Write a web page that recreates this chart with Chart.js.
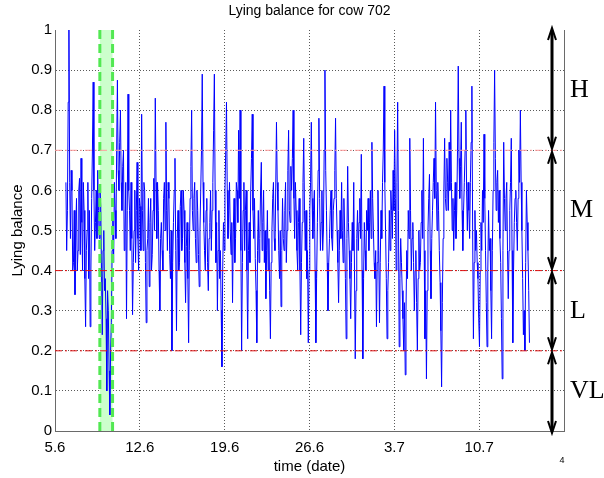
<!DOCTYPE html>
<html>
<head>
<meta charset="utf-8">
<script src="https://cdn.jsdelivr.net/npm/chart.js@4/dist/chart.umd.min.js"></script>
<style>
  html, body { margin: 0; padding: 0; background: #fff; }
  #wrap { width: 604px; height: 478px; }
</style>
</head>
<body>
<div id="wrap"><canvas id="c" width="604" height="478"></canvas></div>
<script>
// Lying balance, sampled every 1.5 hours (0.0625 day) from day 0.9 after 5 June
const startDay = 0.9;
const stepDay = 0.0625;
const lyingBalance = [
  0.62,0.45,0.55,0.82,1.00,0.62,0.48,0.65,0.60,0.40,0.42,0.55,0.34,0.50,0.58,0.40,0.45,0.60,0.63,0.44,
  0.68,0.52,0.40,0.62,0.55,0.38,0.26,0.45,0.50,0.62,0.38,0.55,0.26,0.40,0.58,0.70,0.87,0.60,0.45,0.52,
  0.60,0.48,0.65,0.55,0.48,0.60,0.56,0.40,0.24,0.45,0.50,0.35,0.38,0.28,0.10,0.35,0.30,0.15,0.04,0.20,
  0.27,0.45,0.54,0.42,0.62,0.55,0.48,0.70,0.875,0.65,0.60,0.72,0.80,0.62,0.55,0.66,0.70,0.45,0.50,0.62,
  0.28,0.55,0.84,0.60,0.55,0.45,0.62,0.48,0.29,0.42,0.50,0.60,0.42,0.55,0.67,0.48,0.40,0.58,0.56,0.45,
  0.79,0.55,0.45,0.62,0.60,0.42,0.27,0.45,0.48,0.58,0.36,0.52,0.58,0.40,0.44,0.55,0.63,0.50,0.83,0.62,
  0.48,0.62,0.55,0.40,0.30,0.48,0.52,0.45,0.40,0.58,0.62,0.50,0.77,0.55,0.45,0.62,0.58,0.44,0.38,0.50,
  0.20,0.42,0.52,0.60,0.68,0.45,0.25,0.48,0.55,0.40,0.42,0.56,0.60,0.45,0.48,0.60,0.55,0.42,0.32,0.46,
  0.52,0.38,0.22,0.45,0.58,0.66,0.80,0.55,0.50,0.58,0.62,0.48,0.42,0.60,0.55,0.44,0.36,0.50,0.60,0.70,
  0.89,0.62,0.52,0.45,0.40,0.55,0.58,0.42,0.35,0.48,0.52,0.60,0.45,0.55,0.62,0.75,0.89,0.60,0.42,0.52,
  0.30,0.45,0.55,0.38,0.45,0.30,0.16,0.40,0.52,0.45,0.60,0.70,0.82,0.60,0.48,0.55,0.62,0.50,0.44,0.52,
  0.32,0.50,0.58,0.42,0.48,0.62,0.60,0.52,0.75,0.58,0.80,0.45,0.20,0.42,0.55,0.62,0.45,0.55,0.60,0.40,
  0.23,0.45,0.52,0.42,0.60,0.68,0.79,0.55,0.48,0.58,0.43,0.35,0.22,0.45,0.55,0.42,0.48,0.60,0.67,0.45,
  0.52,0.60,0.42,0.50,0.33,0.45,0.55,0.40,0.48,0.35,0.23,0.42,0.50,0.58,0.62,0.48,0.45,0.60,0.77,0.62,
  0.55,0.45,0.38,0.50,0.31,0.45,0.58,0.48,0.45,0.55,0.62,0.42,0.50,0.65,0.75,0.55,0.52,0.66,0.60,0.68,
  0.80,0.58,0.48,0.62,0.55,0.45,0.40,0.52,0.58,0.40,0.24,0.42,0.52,0.62,0.73,0.55,0.45,0.55,0.38,0.45,
  0.22,0.40,0.55,0.62,0.77,0.58,0.48,0.55,0.60,0.40,0.22,0.38,0.52,0.65,0.78,0.58,0.45,0.52,0.60,0.45,
  0.50,0.70,0.90,0.65,0.55,0.42,0.30,0.42,0.48,0.55,0.60,0.48,0.45,0.55,0.58,0.65,0.78,0.58,0.50,0.42,
  0.32,0.45,0.55,0.48,0.62,0.50,0.42,0.58,0.50,0.38,0.23,0.48,0.66,0.52,0.45,0.38,0.28,0.42,0.52,0.45,
  0.62,0.40,0.18,0.35,0.48,0.55,0.45,0.52,0.58,0.48,0.69,0.40,0.18,0.38,0.52,0.45,0.40,0.55,0.50,0.58,
  0.45,0.52,0.60,0.48,0.72,0.58,0.50,0.42,0.38,0.45,0.26,0.42,0.60,0.45,0.27,0.42,0.55,0.48,0.62,0.70,
  0.86,0.62,0.50,0.38,0.23,0.35,0.42,0.55,0.45,0.60,0.55,0.48,0.65,0.55,0.75,0.58,0.40,0.62,0.82,0.55,
  0.21,0.38,0.48,0.42,0.35,0.28,0.20,0.32,0.14,0.30,0.45,0.38,0.55,0.48,0.73,0.55,0.40,0.48,0.52,0.42,
  0.30,0.40,0.45,0.32,0.20,0.38,0.50,0.40,0.42,0.52,0.60,0.48,0.73,0.45,0.23,0.35,0.13,0.35,0.50,0.58,
  0.64,0.45,0.33,0.48,0.55,0.62,0.68,0.58,0.82,0.60,0.50,0.62,0.55,0.45,0.37,0.25,0.11,0.32,0.48,0.60,
  0.73,0.58,0.55,0.68,0.62,0.55,0.72,0.60,0.80,0.62,0.50,0.58,0.45,0.55,0.62,0.48,0.55,0.70,0.91,0.68,
  0.58,0.66,0.77,0.55,0.45,0.55,0.62,0.70,0.80,0.60,0.50,0.62,0.55,0.48,0.62,0.72,0.86,0.50,0.23,0.42,
  0.55,0.45,0.50,0.42,0.38,0.28,0.21,0.40,0.52,0.45,0.60,0.52,0.74,0.58,0.45,0.32,0.21,0.40,0.55,0.45,
  0.48,0.35,0.23,0.45,0.60,0.72,0.90,0.68,0.55,0.62,0.65,0.52,0.60,0.48,0.42,0.28,0.13,0.45,0.72,0.58,
  0.50,0.58,0.62,0.45,0.33,0.45,0.55,0.62,0.73,0.45,0.22,0.40,0.52,0.58,0.60,0.52,0.45,0.58,0.70,0.62,
  0.80,0.62,0.50,0.38,0.24,0.30,0.20,0.42,0.60,0.52,0.45,0.35,0.22
];

// Date ticks (days since 5 June) and their labels
const tickDays = [0, 7, 14, 21, 28, 35];
const dateLabels = ['5.6', '12.6', '19.6', '26.6', '3.7', '10.7'];
const dayRange = [0, 42];

// Class thresholds and class names
const thresholds = [0.7, 0.4, 0.2];
const thresholdColors = ['#ff9c9c', '#e01010', '#e01010'];
const classBounds = [[0.7, 1.0], [0.4, 0.7], [0.2, 0.4], [0.0, 0.2]];
const classNames = ['H', 'M', 'L', 'VL'];

// Highlighted interval (days)
const highlight = [3.7, 4.75];

const points = lyingBalance.map((v, i) => ({ x: startDay + i * stepDay, y: v }));

const datasets = [];
thresholds.forEach((t, k) => {
  datasets.push({
    data: [{ x: dayRange[0], y: t }, { x: dayRange[1], y: t }],
    borderColor: thresholdColors[k], borderWidth: 1,
    borderDash: [7, 3, 2, 3], pointRadius: 0, order: 0
  });
});
highlight.forEach(d => {
  datasets.push({
    data: [{ x: d, y: 0 }, { x: d, y: 1 }],
    borderColor: '#52e852', borderWidth: 3,
    borderDash: [9, 5], pointRadius: 0, order: 0
  });
});
datasets.push({
  data: points, borderColor: '#0000ff', borderWidth: 1,
  pointRadius: 0, tension: 0, order: 1
});

const decor = {
  id: 'decor',
  beforeDatasetsDraw(chart) {
    const { ctx, chartArea: a, scales: { x } } = chart;
    ctx.save();
    const x0 = x.getPixelForValue(highlight[0]);
    const x1 = x.getPixelForValue(highlight[1]);
    ctx.fillStyle = '#ccffcc';
    ctx.fillRect(x0, a.top, x1 - x0, a.bottom - a.top);
    // right edge of the axes box
    ctx.strokeStyle = '#6a6a6a';
    ctx.lineWidth = 1;
    ctx.beginPath();
    ctx.moveTo(a.right + 0.5, a.top);
    ctx.lineTo(a.right + 0.5, a.bottom);
    ctx.stroke();
    ctx.restore();
  },
  afterDraw(chart) {
    const { ctx, chartArea: a, scales: { x, y } } = chart;
    ctx.save();
    ctx.fillStyle = '#000';
    // title
    ctx.font = '14px "Liberation Sans", Arial, sans-serif';
    ctx.textAlign = 'center';
    ctx.textBaseline = 'middle';
    ctx.fillText('Lying balance for cow 702', (a.left + a.right) / 2, 11);
    // x axis title
    ctx.font = '15px "Liberation Sans", Arial, sans-serif';
    ctx.fillText('time (date)', (a.left + a.right) / 2, 467);
    // y axis title
    ctx.save();
    ctx.translate(18, (a.top + a.bottom) / 2);
    ctx.rotate(-Math.PI / 2);
    ctx.fillText('Lying balance', 0, 0);
    ctx.restore();
    // exponent leftover
    ctx.font = '9px "Liberation Sans", Arial, sans-serif';
    ctx.fillText('4', a.right - 2, 461);

    // class arrows
    const ax = a.right - 12;
    classBounds.forEach(([lo, hi], k) => {
      const top = y.getPixelForValue(hi) + (hi === 1 ? -2 : 1.5);
      const bot = y.getPixelForValue(lo) + (lo === 0 ? 2 : -1.5);
      ctx.strokeStyle = '#000';
      ctx.lineWidth = 3;
      ctx.beginPath();
      ctx.moveTo(ax, top + 3);
      ctx.lineTo(ax, bot - 3);
      ctx.stroke();
      ctx.lineWidth = 2;
      ctx.beginPath();
      ctx.moveTo(ax - 4, top + 12);
      ctx.lineTo(ax, top);
      ctx.lineTo(ax + 4, top + 12);
      ctx.moveTo(ax - 4, bot - 12);
      ctx.lineTo(ax, bot);
      ctx.lineTo(ax + 4, bot - 12);
      ctx.stroke();
      ctx.font = '26px "Liberation Serif", "Times New Roman", serif';
      ctx.textAlign = 'left';
      ctx.textBaseline = 'middle';
      ctx.fillText(classNames[k], a.right + 6, (y.getPixelForValue(lo) + y.getPixelForValue(hi)) / 2);
    });
    ctx.restore();
  }
};

new Chart(document.getElementById('c'), {
  type: 'line',
  data: { datasets },
  options: {
    responsive: false,
    animation: false,
    events: [],
    layout: { padding: { left: 0, right: 40, top: 30, bottom: 0 } },
    plugins: { legend: { display: false }, tooltip: { enabled: false }, title: { display: false } },
    scales: {
      x: {
        type: 'linear', min: dayRange[0], max: dayRange[1],
        afterBuildTicks: ax => { ax.ticks = tickDays.map(v => ({ value: v })); },
        afterFit: ax => { ax.height = 47; },
        ticks: {
          autoSkip: false, maxRotation: 0, padding: 8, color: '#000',
          font: { family: '"Liberation Sans", Arial, sans-serif', size: 15 },
          callback: v => dateLabels[tickDays.indexOf(v)]
        },
        grid: {
          drawTicks: false, lineWidth: 1,
          color: c => (c.tick && c.tick.value === 0) ? 'rgba(0,0,0,0)' : '#5a5a5a'
        },
        border: { display: true, color: '#6a6a6a', width: 1, dash: [1, 2] }
      },
      y: {
        min: 0, max: 1,
        afterFit: ax => { ax.width = 55; },
        ticks: {
          stepSize: 0.1, padding: 3, color: '#000',
          font: { family: '"Liberation Sans", Arial, sans-serif', size: 15 },
          callback: v => String(Math.round(v * 10) / 10)
        },
        grid: {
          drawTicks: false, lineWidth: 1,
          color: c => (c.tick && (c.tick.value <= 0.001 || c.tick.value >= 0.999)) ? 'rgba(0,0,0,0)' : '#5a5a5a'
        },
        border: { display: true, color: '#6a6a6a', width: 1, dash: [1, 2] }
      }
    }
  },
  plugins: [decor]
});
</script>
</body>
</html>
